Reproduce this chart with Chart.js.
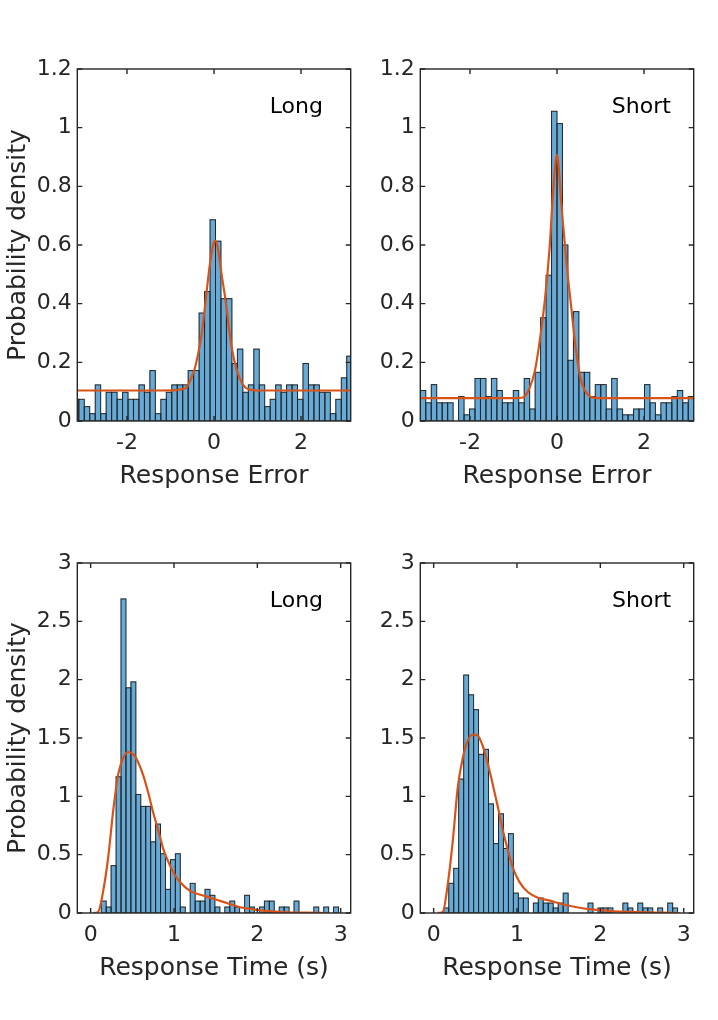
<!DOCTYPE html>
<html>
<head>
<meta charset="utf-8">
<script src="https://cdn.jsdelivr.net/npm/chart.js@4.4.1/dist/chart.umd.min.js"></script>
<style>
html,body{margin:0;padding:0;background:#ffffff;width:718px;height:1020px;overflow:hidden;}
canvas{position:absolute;}
</style>
</head>
<body>
<canvas id="cTL" width="370" height="470" style="left:0px;top:40px"></canvas>
<canvas id="cTR" width="370" height="470" style="left:343px;top:40px"></canvas>
<canvas id="cBL" width="370" height="468" style="left:0px;top:534px"></canvas>
<canvas id="cBR" width="370" height="468" style="left:343px;top:534px"></canvas>
<script>
// ---------- tick labels ----------
const errTicks = [-2, 0, 2];
const errDensityTicks = [0, 0.2, 0.4, 0.6, 0.8, 1, 1.2];
const rtTicks = [0, 1, 2, 3];
const rtDensityTicks = [0, 0.5, 1, 1.5, 2, 2.5, 3];

// ---------- Response error, Long ----------
const longErrBins = [-3.170,-3.044,-2.919,-2.793,-2.667,-2.542,-2.416,-2.290,-2.165,-2.039,-1.913,-1.788,-1.662,-1.536,-1.411,-1.285,-1.159,-1.034,-0.908,-0.782,-0.657,-0.531,-0.405,-0.280,-0.154,-0.028,0.097,0.223,0.349,0.474,0.600,0.726,0.851,0.977,1.103,1.228,1.354,1.480,1.605,1.731,1.857,1.982,2.108,2.234,2.359,2.485,2.611,2.736,2.862,2.988,3.113];
const longErrDensity = [0.074,0.074,0.049,0.025,0.123,0.025,0.098,0.098,0.074,0.098,0.074,0.074,0.123,0.098,0.172,0.025,0.074,0.098,0.123,0.123,0.123,0.172,0.172,0.368,0.441,0.686,0.613,0.417,0.417,0.196,0.245,0.098,0.123,0.245,0.123,0.049,0.074,0.123,0.098,0.123,0.123,0.074,0.196,0.123,0.123,0.098,0.098,0.025,0.074,0.147,0.221];
const longErrFitX = [-3.1416,-1.2,-0.9,-0.75,-0.63,-0.5,-0.44,-0.35,-0.28,-0.17,-0.09,0.0,0.03,0.1,0.154,0.276,0.35,0.407,0.53,0.66,0.79,1.0,3.1416];
const longErrFitY = [0.104,0.104,0.105,0.108,0.115,0.155,0.18,0.24,0.30,0.44,0.54,0.61,0.615,0.58,0.52,0.40,0.31,0.25,0.17,0.125,0.108,0.104,0.104];

// ---------- Response error, Short ----------
const shortErrBins = [-3.079,-2.953,-2.827,-2.702,-2.576,-2.450,-2.325,-2.199,-2.073,-1.948,-1.822,-1.696,-1.571,-1.445,-1.319,-1.194,-1.068,-0.942,-0.817,-0.691,-0.565,-0.440,-0.314,-0.188,-0.063,0.063,0.188,0.314,0.440,0.565,0.691,0.817,0.942,1.068,1.194,1.319,1.445,1.571,1.696,1.822,1.948,2.073,2.199,2.325,2.450,2.576,2.702,2.827,2.953,3.079];
const shortErrDensity = [0.104,0.062,0.124,0.062,0.062,0.062,0,0.083,0.021,0.041,0.145,0.145,0.083,0.145,0.104,0.062,0.062,0.104,0.062,0.145,0.041,0.166,0.352,0.497,1.056,1.014,0.600,0.207,0.373,0.166,0.166,0.083,0.124,0.124,0.041,0.145,0.041,0.021,0.021,0.041,0.041,0.124,0.062,0.021,0.062,0.062,0.083,0.104,0.062,0.083];
const shortErrFitX = [-3.1416,-1.0,-0.78,-0.63,-0.51,-0.40,-0.28,-0.17,-0.09,0.0,0.1,0.21,0.33,0.44,0.56,0.71,0.87,1.1,3.1416];
const shortErrFitY = [0.078,0.078,0.080,0.113,0.17,0.27,0.41,0.59,0.78,0.907,0.74,0.55,0.384,0.237,0.135,0.09,0.079,0.078,0.078];

// ---------- Response time, Long ----------
const longRtBins = [0.157,0.216,0.275,0.335,0.394,0.453,0.513,0.572,0.631,0.690,0.750,0.809,0.868,0.928,0.987,1.046,1.106,1.165,1.224,1.284,1.343,1.402,1.461,1.521,1.580,1.639,1.699,1.758,1.817,1.877,1.936,1.995,2.055,2.114,2.173,2.232,2.292,2.351,2.410,2.470,2.529,2.588,2.648,2.707,2.766,2.826,2.885,2.944];
const longRtDensity = [0.102,0.051,0.406,1.168,2.692,1.930,1.981,1.016,0.914,0.914,0.610,0.762,0.508,0.203,0.457,0.508,0.051,0,0.254,0.102,0.102,0.203,0.152,0.051,0,0.051,0.102,0.051,0,0.152,0.051,0,0.051,0.102,0.102,0,0.051,0.051,0,0.102,0,0,0,0.051,0,0.051,0,0.051];
const longRtFitX = [0.03,0.09,0.151,0.211,0.271,0.331,0.391,0.451,0.511,0.571,0.631,0.691,0.751,0.811,0.871,0.931,0.991,1.072,1.192,1.372,1.572,1.771,1.972,2.172,2.368,2.572,2.85];
const longRtFitY = [0,0.01,0.19,0.48,0.88,1.19,1.33,1.38,1.36,1.29,1.18,1.03,0.86,0.71,0.55,0.44,0.35,0.265,0.19,0.145,0.10,0.054,0.029,0.014,0.006,0.003,0];

// ---------- Response time, Short ----------
const shortRtBins = [0.151,0.211,0.270,0.330,0.390,0.450,0.509,0.569,0.629,0.688,0.748,0.808,0.867,0.927,0.987,1.047,1.106,1.166,1.226,1.285,1.345,1.405,1.464,1.524,1.584,1.644,1.703,1.763,1.823,1.882,1.942,2.002,2.061,2.121,2.181,2.241,2.300,2.360,2.420,2.479,2.539,2.599,2.658,2.718,2.778,2.838,2.897];
const shortRtDensity = [0.043,0.255,0.383,1.148,2.040,1.870,1.743,1.360,1.403,0.935,0.595,0.850,0.553,0.680,0.170,0.128,0.128,0,0.085,0.128,0.085,0.085,0.043,0.085,0.170,0,0,0,0,0.085,0,0.043,0.043,0.043,0,0,0.085,0.043,0,0.085,0.043,0.043,0,0.043,0,0.085,0.043];
const shortRtFitX = [0.05,0.11,0.17,0.23,0.29,0.35,0.41,0.47,0.53,0.59,0.65,0.71,0.77,0.83,0.89,0.95,1.03,1.13,1.25,1.37,1.57,1.77,1.97,2.17,2.37,2.57,2.73,2.95];
const shortRtFitY = [0,0.01,0.25,0.62,1.08,1.33,1.48,1.53,1.52,1.43,1.28,1.10,0.91,0.71,0.54,0.39,0.265,0.18,0.13,0.11,0.071,0.043,0.026,0.014,0.009,0.005,0.003,0];

// ---------- text ----------
const panelNames = ['Long', 'Short', 'Long', 'Short'];
const xTitles = ['Response Error', 'Response Error', 'Response Time (s)', 'Response Time (s)'];
const yTitle = 'Probability density';

// ---------- styles ----------
const FONT = 'DejaVu Sans';
const INK = '#262626';
const BAR_FILL = '#66AAD7';
const FIT_COLOR = '#D95319';
Chart.defaults.font.family = FONT;

const framePlugin = {
  id: 'frame',
  afterDatasetDraw(chart, args) {
    if (args.meta.type !== 'bar') return;
    const {ctx, chartArea: a} = chart;
    ctx.save();
    ctx.beginPath();
    ctx.rect(a.left, a.top, a.right - a.left, a.bottom - a.top);
    ctx.clip();
    ctx.strokeStyle = INK;
    ctx.lineWidth = 1;
    args.meta.data.forEach(el => {
      const p = el.getProps(['x', 'y', 'base', 'width'], true);
      const h = p.base - p.y;
      if (h > 0.5) ctx.strokeRect(p.x - p.width / 2, p.y, p.width, h);
    });
    ctx.restore();
  },
  afterDatasetsDraw(chart, args, opts) {
    const {ctx, chartArea: a, scales} = chart;
    const tl = 5;
    ctx.save();
    ctx.strokeStyle = INK;
    ctx.lineWidth = 1.4;
    ctx.beginPath();
    scales.x.ticks.forEach(t => {
      const px = scales.x.getPixelForValue(t.value);
      ctx.moveTo(px, a.bottom); ctx.lineTo(px, a.bottom - tl);
      ctx.moveTo(px, a.top); ctx.lineTo(px, a.top + tl);
    });
    scales.y.ticks.forEach(t => {
      const py = scales.y.getPixelForValue(t.value);
      ctx.moveTo(a.left, py); ctx.lineTo(a.left + tl, py);
      ctx.moveTo(a.right, py); ctx.lineTo(a.right - tl, py);
    });
    ctx.stroke();
    ctx.strokeRect(a.left, a.top, a.right - a.left, a.bottom - a.top);
    ctx.fillStyle = '#000000';
    ctx.font = '22px "' + FONT + '"';
    ctx.textAlign = 'left';
    ctx.textBaseline = 'middle';
    ctx.fillText(opts.label, scales.x.getPixelForValue(opts.labelX), scales.y.getPixelForValue(opts.labelY));
    ctx.restore();
  }
};

function makePanel(id, p) {
  new Chart(document.getElementById(id), {
    type: 'bar',
    data: {
      datasets: [
        {
          type: 'line', order: 0,
          data: p.fitX.map((x, i) => ({x: x, y: p.fitY[i]})),
          borderColor: FIT_COLOR, borderWidth: 2.2, pointRadius: 0,
          cubicInterpolationMode: 'monotone', fill: false, clip: 0
        },
        {
          type: 'bar', order: 1,
          data: p.bins.map((x, i) => ({x: x, y: p.dens[i]})),
          backgroundColor: BAR_FILL, borderWidth: 0,
          barPercentage: 1, categoryPercentage: 1, grouped: false, clip: 0
        }
      ]
    },
    options: {
      responsive: false, animation: false, devicePixelRatio: 1,
      layout: {padding: {top: 29, right: 19.3, left: 0, bottom: 0}},
      plugins: {
        legend: {display: false}, tooltip: {enabled: false},
        frame: {label: p.label, labelX: p.labelX, labelY: p.labelY}
      },
      scales: {
        x: {
          type: 'linear', min: p.xMin, max: p.xMax, offset: false,
          grid: {display: false, drawTicks: false, offset: false},
          border: {display: false},
          afterBuildTicks: s => { s.ticks = p.xTicks.map(v => ({value: v})); },
          afterFit: s => { s.height = 89; },
          ticks: {font: {size: 22}, color: INK, padding: 9, maxRotation: 0, autoSkip: false, callback: v => String(v)},
          title: {display: true, text: p.xTitle, font: {size: 25}, color: INK, padding: {top: 0, bottom: 19}}
        },
        y: {
          type: 'linear', min: p.yMin, max: p.yMax,
          grid: {display: false, drawTicks: false},
          border: {display: false},
          afterBuildTicks: s => { s.ticks = p.yTicks.map(v => ({value: v})); },
          afterFit: s => { s.width = 77.3; },
          ticks: {font: {size: 22}, color: INK, padding: 5.6, autoSkip: false, callback: v => String(v)},
          title: {display: p.showYTitle, text: yTitle, font: {size: 25}, color: INK, padding: {top: 3.5, bottom: 0}}
        }
      }
    },
    plugins: [framePlugin]
  });
}

makePanel('cTL', {bins: longErrBins, dens: longErrDensity, fitX: longErrFitX, fitY: longErrFitY,
  xMin: -3.1416, xMax: 3.1416, yMin: 0, yMax: 1.2, xTicks: errTicks, yTicks: errDensityTicks,
  xTitle: xTitles[0], showYTitle: true, label: panelNames[0], labelX: 1.28, labelY: 1.07});
makePanel('cTR', {bins: shortErrBins, dens: shortErrDensity, fitX: shortErrFitX, fitY: shortErrFitY,
  xMin: -3.1416, xMax: 3.1416, yMin: 0, yMax: 1.2, xTicks: errTicks, yTicks: errDensityTicks,
  xTitle: xTitles[1], showYTitle: false, label: panelNames[1], labelX: 1.26, labelY: 1.07});
makePanel('cBL', {bins: longRtBins, dens: longRtDensity, fitX: longRtFitX, fitY: longRtFitY,
  xMin: -0.16, xMax: 3.12, yMin: 0, yMax: 3, xTicks: rtTicks, yTicks: rtDensityTicks,
  xTitle: xTitles[2], showYTitle: true, label: panelNames[2], labelX: 2.15, labelY: 2.675});
makePanel('cBR', {bins: shortRtBins, dens: shortRtDensity, fitX: shortRtFitX, fitY: shortRtFitY,
  xMin: -0.16, xMax: 3.12, yMin: 0, yMax: 3, xTicks: rtTicks, yTicks: rtDensityTicks,
  xTitle: xTitles[3], showYTitle: false, label: panelNames[3], labelX: 2.14, labelY: 2.675});
</script>
</body>
</html>
